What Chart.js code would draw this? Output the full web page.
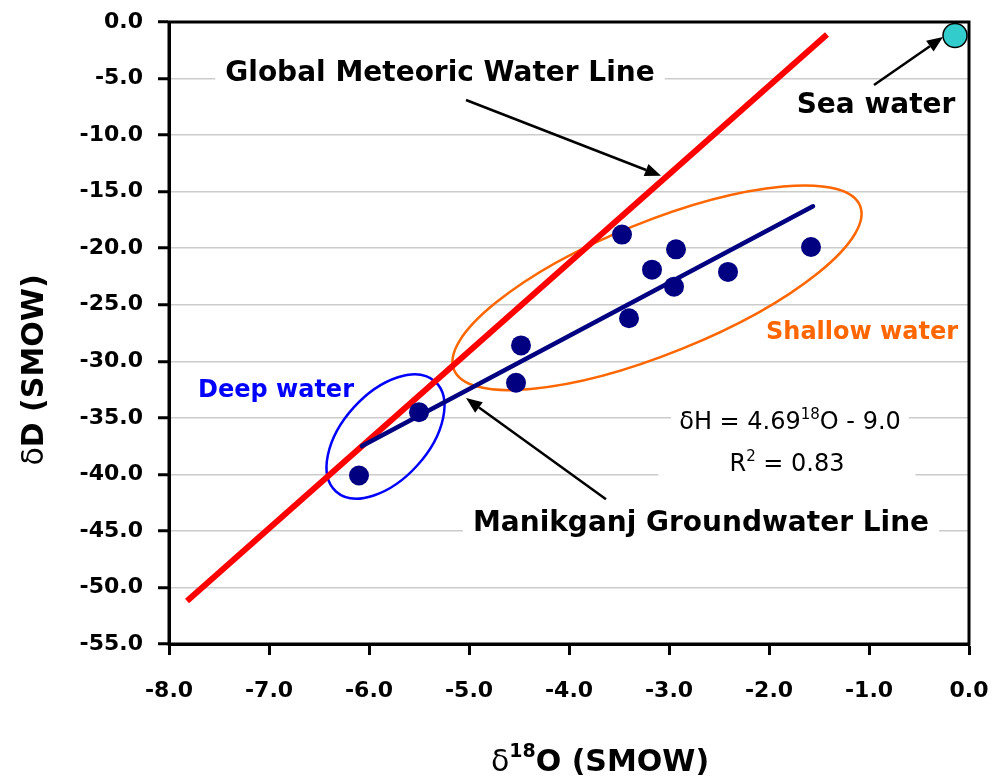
<!DOCTYPE html>
<html>
<head>
<meta charset="utf-8">
<script src="https://cdn.jsdelivr.net/npm/chart.js@4.4.0/dist/chart.umd.min.js"></script>
<style>
    html, body { margin: 0; padding: 0; background: #fff; }
</style>
</head>
<body>
<canvas id="chart" width="997" height="780"></canvas>
<script>
// groundwater samples
const sampleO18 = [-6.10, -5.50, -4.53, -4.48, -3.47, -3.40, -3.17, -2.93, -2.95, -2.41, -1.58];
const sampleD = [-40.1, -34.5, -31.9, -28.6, -18.8, -26.2, -21.9, -20.1, -23.4, -22.1, -19.9];

// global meteoric water line (end points as drawn)
const gmwlO18 = [-7.82, -1.42];
const gmwlD = [-51.2, -1.1];

// Manikganj groundwater line (end points as drawn)
const mglO18 = [-6.07, -1.56];
const mglD = [-37.5, -16.3];

// sea water
const seaO18 = [-0.14];
const seaD = [-1.2];

// axis ranges / tick steps
const xRange = [-8, 0];
const yRange = [-55, 0];
const xStep = 1;
const yStep = 5;

const FONT = '"DejaVu Sans", "Liberation Sans", Arial, sans-serif';

function toPoints(xs, ys) {
    return xs.map((x, i) => ({ x: x, y: ys[i] }));
}

// text notes, placed in data coordinates
const notes = [
    { parts: [{ text: 'Global Meteoric Water Line' }], x: -5.29, y: -4.33, size: 28, bold: true, color: '#000', padX: 10 },
    { parts: [{ text: 'Sea water' }], x: -0.93, y: -7.16, size: 28, bold: true, color: '#000' },
    { parts: [{ text: 'Shallow water' }], x: -1.07, y: -27.23, size: 24, bold: true, color: '#FF6600' },
    { parts: [{ text: 'Deep water' }], x: -6.93, y: -32.36, size: 24, bold: true, color: '#0000FF' },
    { parts: [{ text: 'δH = 4.69' }, { text: '18', sup: true }, { text: 'O - 9.0' }], x: -1.79, y: -35.19, size: 24, supSize: 15, rise: 10, color: '#000', padX: 8 },
    { parts: [{ text: 'R' }, { text: '2', sup: true }, { text: ' = 0.83' }], x: -1.82, y: -38.9, size: 24, supSize: 15, rise: 10, color: '#000', padX: 71 },
    { parts: [{ text: 'Manikganj Groundwater Line' }], x: -2.68, y: -44.12, size: 28, bold: true, color: '#000', padX: 10 }
];

// arrows: [fromX, fromY, toX, toY] in data coordinates
const arrows = [
    [-5.03, -6.9, -3.08, -13.6],
    [-0.95, -5.57, -0.26, -1.33],
    [-3.63, -42.2, -5.03, -33.25]
];

// rings around the sample groups
const rings = [
    { x: -5.835, y: -36.65, a: 74, b: 43, angle: 48, color: '#0000FF' },
    { x: -3.12, y: -23.5, a: 219, b: 66, angle: 22, color: '#FF6600' }
];

function drawParts(ctx, note, cx, cy) {
    const segs = note.parts.map((p) => ({
        text: p.text,
        font: (note.bold ? 'bold ' : '') + (p.sup ? note.supSize : note.size) + 'px ' + FONT,
        rise: p.sup ? note.rise : 0
    }));
    let total = 0;
    segs.forEach((s) => {
        ctx.font = s.font;
        s.w = ctx.measureText(s.text).width;
        total += s.w;
    });
    if (note.padX !== undefined) {
        ctx.fillStyle = '#fff';
        ctx.fillRect(cx - total / 2 - note.padX, cy - 17, total + 2 * note.padX, 34);
    }
    let x = cx - total / 2;
    ctx.fillStyle = note.color;
    ctx.textAlign = 'left';
    ctx.textBaseline = 'alphabetic';
    segs.forEach((s) => {
        ctx.font = s.font;
        ctx.fillText(s.text, x, cy + note.size * 0.365 - s.rise);
        x += s.w;
    });
}

function drawTitle(ctx, segs, cx, baseline) {
    let total = 0;
    segs.forEach((s) => { ctx.font = s.font; s.w = ctx.measureText(s.text).width; total += s.w; });
    let x = cx - total / 2;
    ctx.fillStyle = '#000';
    ctx.textAlign = 'left';
    ctx.textBaseline = 'alphabetic';
    segs.forEach((s) => {
        ctx.font = s.font;
        ctx.fillText(s.text, x, baseline - (s.rise || 0));
        x += s.w;
    });
}

const overlay = {
    id: 'overlay',
    beforeDatasetsDraw(chart) {
        const ctx = chart.ctx;
        const sx = chart.scales.x, sy = chart.scales.y;
        ctx.save();
        for (let r of rings) {
            ctx.beginPath();
            ctx.ellipse(sx.getPixelForValue(r.x), sy.getPixelForValue(r.y), r.a, r.b, -r.angle * Math.PI / 180, 0, Math.PI * 2);
            ctx.strokeStyle = r.color;
            ctx.lineWidth = 2.5;
            ctx.stroke();
        }
        for (let n of notes) {
            drawParts(ctx, n, sx.getPixelForValue(n.x), sy.getPixelForValue(n.y));
        }
        ctx.restore();
    },
    afterDraw(chart) {
        const ctx = chart.ctx;
        const sx = chart.scales.x, sy = chart.scales.y;
        const area = chart.chartArea;
        ctx.save();
        // arrows
        for (let a of arrows) {
            const x1 = sx.getPixelForValue(a[0]), y1 = sy.getPixelForValue(a[1]);
            const x2 = sx.getPixelForValue(a[2]), y2 = sy.getPixelForValue(a[3]);
            const ang = Math.atan2(y2 - y1, x2 - x1);
            const len = 16, half = 6.5;
            const bx = x2 - len * Math.cos(ang), by = y2 - len * Math.sin(ang);
            ctx.strokeStyle = '#000';
            ctx.lineWidth = 2.5;
            ctx.beginPath();
            ctx.moveTo(x1, y1);
            ctx.lineTo(bx, by);
            ctx.stroke();
            ctx.fillStyle = '#000';
            ctx.beginPath();
            ctx.moveTo(x2, y2);
            ctx.lineTo(bx + half * Math.sin(ang), by - half * Math.cos(ang));
            ctx.lineTo(bx - half * Math.sin(ang), by + half * Math.cos(ang));
            ctx.closePath();
            ctx.fill();
        }
        // plot frame
        ctx.strokeStyle = '#000';
        ctx.lineWidth = 3;
        ctx.strokeRect(area.left, area.top, area.right - area.left, area.bottom - area.top);

        // axis titles
        ctx.save();
        ctx.translate(43, 370);
        ctx.rotate(-Math.PI / 2);
        drawTitle(ctx, [{ text: 'δ', font: '30px ' + FONT }, { text: 'D (SMOW)', font: 'bold 30px ' + FONT }], 0, 0);
        ctx.restore();
        drawTitle(ctx, [{ text: 'δ', font: '30px ' + FONT }, { text: '18', font: 'bold 19px ' + FONT, rise: 14 }, { text: 'O (SMOW)', font: 'bold 30px ' + FONT }], 600, 771);
        ctx.restore();
    }
};

new Chart(document.getElementById('chart'), {
    type: 'scatter',
    data: {
        datasets: [
            {
                label: 'Global Meteoric Water Line',
                data: toPoints(gmwlO18, gmwlD),
                showLine: true,
                borderColor: '#FF0000',
                borderWidth: 6,
                pointRadius: 0,
                order: 3
            },
            {
                label: 'Manikganj Groundwater Line',
                data: toPoints(mglO18, mglD),
                showLine: true,
                borderColor: '#000080',
                borderWidth: 4.5,
                borderCapStyle: 'round',
                pointRadius: 0,
                order: 2
            },
            {
                label: 'Groundwater',
                data: toPoints(sampleO18, sampleD),
                backgroundColor: '#000080',
                borderWidth: 0,
                pointRadius: 10,
                order: 1
            },
            {
                label: 'Sea water',
                data: toPoints(seaO18, seaD),
                backgroundColor: '#33CCCC',
                borderColor: '#000',
                borderWidth: 1.5,
                pointRadius: 12,
                clip: false,
                order: 0
            }
        ]
    },
    options: {
        responsive: false,
        animation: false,
        devicePixelRatio: 1,
        layout: { padding: { top: 22, right: 28, left: 0, bottom: 0 } },
        plugins: {
            legend: { display: false },
            tooltip: { enabled: false }
        },
        scales: {
            x: {
                type: 'linear',
                min: xRange[0],
                max: xRange[1],
                afterFit: (scale) => {
                    scale.height = 136;
                    scale.paddingLeft = 0;
                    scale.paddingRight = 0;
                },
                ticks: {
                    stepSize: xStep,
                    padding: 23,
                    color: '#000',
                    font: { family: FONT, size: 22, weight: 'bold' },
                    callback: (v) => (Math.abs(v) < 1e-9 ? 0 : v).toFixed(1)
                },
                grid: {
                    drawOnChartArea: false,
                    drawTicks: true,
                    tickLength: 11,
                    tickColor: '#000',
                    tickWidth: 3
                },
                border: { color: '#000', width: 3 }
            },
            y: {
                type: 'linear',
                min: yRange[0],
                max: yRange[1],
                afterFit: (scale) => {
                    scale.width = 169;
                    scale.paddingTop = 0;
                    scale.paddingBottom = 0;
                },
                ticks: {
                    stepSize: yStep,
                    padding: 15,
                    color: '#000',
                    font: { family: FONT, size: 22, weight: 'bold' },
                    callback: (v) => (Math.abs(v) < 1e-9 ? 0 : v).toFixed(1)
                },
                grid: {
                    color: '#cccccc',
                    lineWidth: 1.5,
                    drawTicks: true,
                    tickLength: 11,
                    tickColor: '#000',
                    tickWidth: 3
                },
                border: { color: '#000', width: 3 }
            }
        }
    },
    plugins: [overlay]
});
</script>
</body>
</html>
